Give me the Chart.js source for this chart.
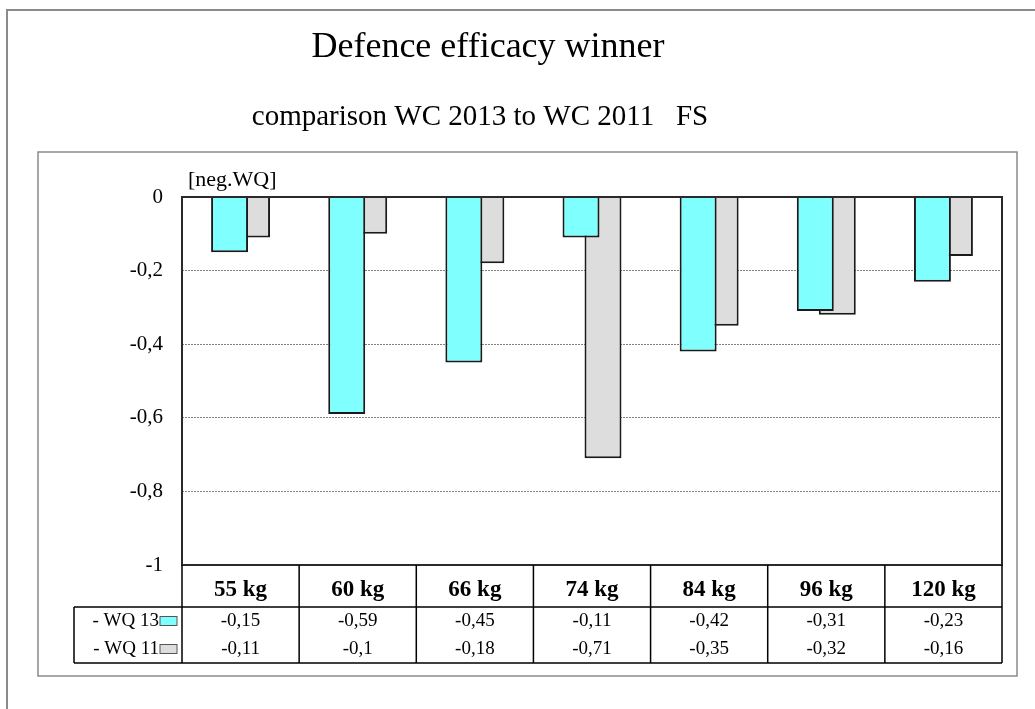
<!DOCTYPE html>
<html>
<head>
<meta charset="utf-8">
<title>Defence efficacy winner</title>
<script src="https://cdn.jsdelivr.net/npm/chart.js@4"></script>
<style>
  body { margin: 0; background: #fff; }
  canvas { display: block; }
</style>
</head>
<body>
<canvas id="defenceChart" width="1035" height="709"></canvas>
<script>
// values
const weightClasses = ['55 kg', '60 kg', '66 kg', '74 kg', '84 kg', '96 kg', '120 kg'];
const wq13 = [-0.15, -0.59, -0.45, -0.11, -0.42, -0.31, -0.23];
const wq11 = [-0.11, -0.1, -0.18, -0.71, -0.35, -0.32, -0.16];
const seriesNames = ['- WQ 13', '- WQ 11'];
const yTicks = [0, -0.2, -0.4, -0.6, -0.8, -1];

const SERIF = "'Liberation Serif', 'Times New Roman', serif";
const fmt = v => String(v).replace('.', ',');

const framePlugin = {
    id: 'framePlugin',
    beforeDraw(chart) {
        const ctx = chart.ctx;
        ctx.save();
        ctx.fillStyle = '#fff';
        ctx.fillRect(0, 0, chart.width, chart.height);

        // outer border runs off the right and bottom edge
        ctx.strokeStyle = '#8a8a8a';
        ctx.lineWidth = 2;
        ctx.beginPath();
        ctx.moveTo(7, chart.height);
        ctx.lineTo(7, 10);
        ctx.lineTo(chart.width, 10);
        ctx.stroke();

        ctx.lineWidth = 1.5;
        ctx.strokeRect(38, 152, 979, 524);

        ctx.fillStyle = '#000';
        ctx.textAlign = 'center';
        ctx.textBaseline = 'alphabetic';
        ctx.font = '36px ' + SERIF;
        ctx.fillText('Defence efficacy winner', 488, 57);
        ctx.font = '29px ' + SERIF;
        ctx.fillText('comparison WC 2013 to WC 2011   FS', 480, 125);
        ctx.textAlign = 'left';
        ctx.font = '22px ' + SERIF;
        ctx.fillText('[neg.WQ]', 188, 186);
        ctx.restore();
    },
    afterDraw(chart) {
        const { ctx, chartArea: a, scales: { x } } = chart;
        const n = weightClasses.length;
        const step = (a.right - a.left) / n;
        const headBottom = a.bottom + 42;
        const rowH = 28;
        const tableBottom = headBottom + rowH * 2;
        const legendLeft = 74;

        ctx.save();
        // plot frame
        ctx.strokeStyle = '#2a2a2a';
        ctx.lineWidth = 2;
        ctx.strokeRect(a.left, a.top, a.right - a.left, a.bottom - a.top);

        // data table grid
        ctx.strokeStyle = '#000';
        ctx.lineWidth = 1.5;
        ctx.beginPath();
        for (let i = 0; i <= n; i++) {
            const px = a.left + i * step;
            ctx.moveTo(px, a.bottom);
            ctx.lineTo(px, tableBottom);
        }
        ctx.moveTo(legendLeft, headBottom);
        ctx.lineTo(a.right, headBottom);
        ctx.moveTo(legendLeft, tableBottom);
        ctx.lineTo(a.right, tableBottom);
        ctx.moveTo(legendLeft, headBottom);
        ctx.lineTo(legendLeft, tableBottom);
        ctx.stroke();

        ctx.textBaseline = 'middle';
        ctx.font = '19px ' + SERIF;
        chart.data.datasets.forEach((ds, r) => {
            const cy = headBottom + rowH * (r + 0.5);
            ctx.fillStyle = '#000';
            ctx.textAlign = 'center';
            ds.data.forEach((v, i) => {
                ctx.fillText(fmt(v), x.getPixelForValue(i), cy);
            });
            ctx.textAlign = 'right';
            ctx.fillText(seriesNames[r], 159, cy);
            ctx.fillStyle = ds.backgroundColor;
            ctx.fillRect(160, cy - 4.5, 17, 9);
            ctx.strokeStyle = '#555';
            ctx.lineWidth = 1;
            ctx.strokeRect(160, cy - 4.5, 17, 9);
        });
        ctx.restore();
    }
};

new Chart(document.getElementById('defenceChart'), {
    type: 'bar',
    data: {
        labels: weightClasses,
        datasets: [
            {
                label: seriesNames[0],
                data: wq13,
                backgroundColor: '#80ffff',
                borderColor: '#1a1a1a',
                borderWidth: 2
            },
            {
                label: seriesNames[1],
                data: wq11,
                backgroundColor: '#dddddd',
                borderColor: '#1a1a1a',
                borderWidth: 2
            }
        ]
    },
    options: {
        responsive: false,
        animation: false,
        categoryPercentage: 0.3756,
        barPercentage: 1.68,
        layout: { padding: { top: 197, left: 42, right: 33, bottom: 102 } },
        plugins: {
            legend: { display: false },
            tooltip: { enabled: false }
        },
        scales: {
            x: {
                grid: { display: false, drawTicks: false },
                border: { display: false },
                ticks: {
                    padding: 11,
                    color: '#000',
                    font: { family: SERIF, size: 23, weight: 'bold' }
                },
                afterFit: scale => { scale.height = 42; }
            },
            y: {
                min: -1,
                max: 0,
                afterBuildTicks: scale => { scale.ticks = yTicks.map(v => ({ value: v })); },
                grid: { color: '#808080', lineWidth: 1, drawTicks: false },
                border: { display: false, dash: [2, 1] },
                ticks: {
                    padding: 19,
                    color: '#000',
                    font: { family: SERIF, size: 21 },
                    callback: v => fmt(v)
                },
                afterFit: scale => { scale.width = 140; }
            }
        }
    },
    plugins: [framePlugin]
});
</script>
</body>
</html>
